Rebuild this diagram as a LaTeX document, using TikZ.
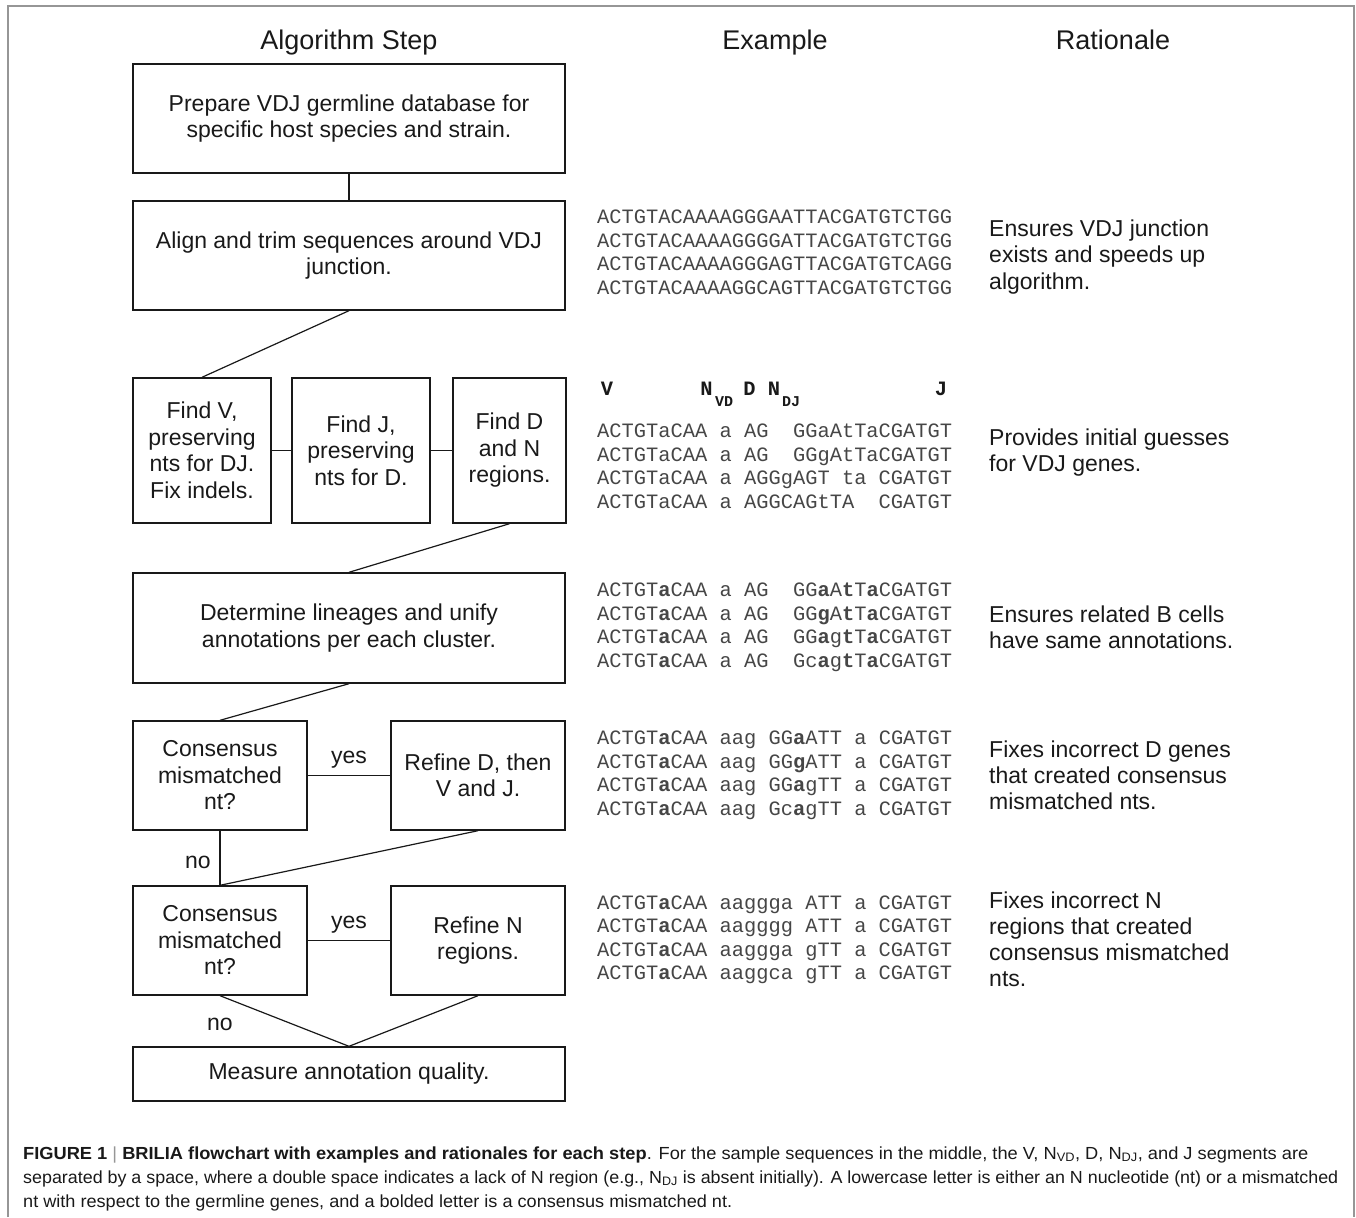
\documentclass[tikz,border=0pt]{standalone}
\usepackage{fontspec}
\setmainfont{Liberation Sans}
\setmonofont{Liberation Mono}
\definecolor{framegray}{RGB}{150,150,150}
\definecolor{ink}{RGB}{25,25,25}
\definecolor{seqink}{RGB}{70,70,70}
\newcommand\bnt[1]{\textbf{#1}}
\begin{document}
\begin{tikzpicture}[x=1pt,y=-1pt,
  stepbox/.style={draw=ink, line width=1.4pt, align=center, inner sep=0pt,
    font=\fontsize{23}{26.5}\selectfont, text=ink},
  conn/.style={draw=ink, line width=1.2pt},
  hdr/.style={anchor=base, inner sep=0pt, font=\fontsize{27}{30}\selectfont, text=ink},
  seqrow/.style={anchor=base west, inner sep=0pt, font=\ttfamily\fontsize{20.4}{24}\selectfont, text=seqink},
  seqhdr/.style={anchor=base, inner sep=0pt, font=\ttfamily\bfseries\fontsize{20.4}{24}\selectfont, text=ink},
  seqsub/.style={anchor=base, inner sep=0pt, font=\ttfamily\bfseries\fontsize{15}{18}\selectfont, text=ink},
  rat/.style={anchor=base west, inner sep=0pt, font=\fontsize{23}{26.5}\selectfont, text=ink},
  lbl/.style={anchor=base, inner sep=0pt, font=\fontsize{23}{26}\selectfont, text=ink},
  captext/.style={anchor=base west, inner sep=0pt, font=\fontsize{17.5}{20}\selectfont, text=ink}]
\useasboundingbox (0,0) rectangle (1356,1217);
\draw[framegray, line width=1.5pt] (8,1217) -- (8,6) -- (1354,6) -- (1354,1217);

% headers
\node[hdr] (h1) at (349,49.5) {Algorithm Step};
\node[hdr] (h2) at (775,49.5) {Example};
\node[hdr] (h3) at (1113,49.5) {Rationale};

% flowchart boxes
\node[stepbox, minimum width=432pt, minimum height=109pt] (b1) at (349,118.5)
  {Prepare VDJ germline database for\\specific host species and strain.};
\node[stepbox, minimum width=432pt, minimum height=109pt] (b2) at (349,255.5)
  {Align and trim sequences around VDJ\\junction.};
\node[stepbox, minimum width=138pt, minimum height=145pt] (b3a) at (202,450.5)
  {Find V,\\preserving\\nts for DJ.\\Fix indels.};
\node[stepbox, minimum width=138pt, minimum height=145pt] (b3b) at (361,450.5)
  {Find J,\\preserving\\nts for D.};
\node[stepbox, minimum width=113pt, minimum height=145pt] (b3c) at (509.5,450.5)
  {Find D\\and N\\regions.};
\node[stepbox, minimum width=432pt, minimum height=110pt] (b4) at (349,628)
  {Determine lineages and unify\\annotations per each cluster.};
\node[stepbox, minimum width=174pt, minimum height=109pt] (b5a) at (220,775.5)
  {Consensus\\mismatched\\nt?};
\node[stepbox, minimum width=174pt, minimum height=109pt] (b5b) at (478,775.5)
  {Refine D, then\\V and J.};
\node[stepbox, minimum width=174pt, minimum height=109pt] (b6a) at (220,940.5)
  {Consensus\\mismatched\\nt?};
\node[stepbox, minimum width=174pt, minimum height=109pt] (b6b) at (478,940.5)
  {Refine N\\regions.};
\node[stepbox, minimum width=432pt, minimum height=54pt] (b7) at (349,1074)
  {Measure annotation quality.};

% connectors
\draw[conn] (b1.south) -- (b2.north);
\draw[conn] (b2.south) -- (b3a.north);
\draw[conn] (b3a) -- (b3b);
\draw[conn] (b3b) -- (b3c);
\draw[conn] (b3c.south) -- (b4.north);
\draw[conn] (b4.south) -- (b5a.north);
\draw[conn] (b5a) -- (b5b);
\draw[conn] (b5a.south) -- (b6a.north);
\draw[conn] (b5b.south) -- (b6a.north);
\draw[conn] (b6a) -- (b6b);
\draw[conn] (b6a.south) -- (b7.north);
\draw[conn] (b6b.south) -- (b7.north);

\node[lbl] (y1) at (349,763) {yes};
\node[lbl] (y2) at (349,928) {yes};
\node[lbl] (n1) at (198,868) {no};
\node[lbl] (n2) at (220,1030) {no};

% examples
\node[seqrow] (s1a) at (597,223) {ACTGTACAAAAGGGAATTACGATGTCTGG};
\node[seqrow] (s1b) at (597,247) {ACTGTACAAAAGGGGATTACGATGTCTGG};
\node[seqrow] (s1c) at (597,270) {ACTGTACAAAAGGGAGTTACGATGTCAGG};
\node[seqrow] (s1d) at (597,294) {ACTGTACAAAAGGCAGTTACGATGTCTGG};

\node[seqhdr] (hV) at (607,395) {V};
\node[seqhdr] (hN1) at (706.5,395) {N};
\node[seqsub] (hVD) at (724,406) {VD};
\node[seqhdr] (hD) at (749.5,395) {D};
\node[seqhdr] (hN2) at (774,395) {N};
\node[seqsub] (hDJ) at (791,406) {DJ};
\node[seqhdr] (hJ) at (941,395) {J};

\node[seqrow] (s2a) at (597,437) {ACTGTaCAA~a~AG~~GGaAtTaCGATGT};
\node[seqrow] (s2b) at (597,461) {ACTGTaCAA~a~AG~~GGgAtTaCGATGT};
\node[seqrow] (s2c) at (597,484) {ACTGTaCAA~a~AGGgAGT~ta~CGATGT};
\node[seqrow] (s2d) at (597,508) {ACTGTaCAA~a~AGGCAGtTA~~CGATGT};

\node[seqrow] (s4a) at (597,596) {ACTGT\bnt{a}CAA~a~AG~~GG\bnt{a}A\bnt{t}T\bnt{a}CGATGT};
\node[seqrow] (s4b) at (597,620) {ACTGT\bnt{a}CAA~a~AG~~GG\bnt{g}A\bnt{t}T\bnt{a}CGATGT};
\node[seqrow] (s4c) at (597,643) {ACTGT\bnt{a}CAA~a~AG~~GG\bnt{a}g\bnt{t}T\bnt{a}CGATGT};
\node[seqrow] (s4d) at (597,667) {ACTGT\bnt{a}CAA~a~AG~~Gc\bnt{a}g\bnt{t}T\bnt{a}CGATGT};

\node[seqrow] (s5a) at (597,744) {ACTGT\bnt{a}CAA~aag~GG\bnt{a}ATT~a~CGATGT};
\node[seqrow] (s5b) at (597,768) {ACTGT\bnt{a}CAA~aag~GG\bnt{g}ATT~a~CGATGT};
\node[seqrow] (s5c) at (597,791) {ACTGT\bnt{a}CAA~aag~GG\bnt{a}gTT~a~CGATGT};
\node[seqrow] (s5d) at (597,815) {ACTGT\bnt{a}CAA~aag~Gc\bnt{a}gTT~a~CGATGT};

\node[seqrow] (s6a) at (597,909) {ACTGT\bnt{a}CAA~aaggga~ATT~a~CGATGT};
\node[seqrow] (s6b) at (597,932) {ACTGT\bnt{a}CAA~aagggg~ATT~a~CGATGT};
\node[seqrow] (s6c) at (597,956) {ACTGT\bnt{a}CAA~aaggga~gTT~a~CGATGT};
\node[seqrow] (s6d) at (597,979) {ACTGT\bnt{a}CAA~aaggca~gTT~a~CGATGT};

% rationales
\node[rat] (r1a) at (989,236) {Ensures VDJ junction};
\node[rat] (r1b) at (989,262) {exists and speeds up};
\node[rat] (r1c) at (989,289) {algorithm.};
\node[rat] (r2a) at (989,445) {Provides initial guesses};
\node[rat] (r2b) at (989,471) {for VDJ genes.};
\node[rat] (r3a) at (989,622) {Ensures related B cells};
\node[rat] (r3b) at (989,648) {have same annotations.};
\node[rat] (r4a) at (989,757) {Fixes incorrect D genes};
\node[rat] (r4b) at (989,783) {that created consensus};
\node[rat] (r4c) at (989,809) {mismatched nts.};
\node[rat] (r5a) at (989,908) {Fixes incorrect N};
\node[rat] (r5b) at (989,934) {regions that created};
\node[rat] (r5c) at (989,960) {consensus mismatched};
\node[rat] (r5d) at (989,986) {nts.};

% caption
\node[captext] (c1) at (23,1159) {\resizebox{1285pt}{\height}{\textbf{FIGURE 1} {\color{framegray}|} \textbf{BRILIA flowchart with examples and rationales for each step}. For the sample sequences in the middle, the V, N\textsubscript{VD}, D, N\textsubscript{DJ}, and J segments are}};
\node[captext] (c2) at (23,1183) {\resizebox{1315pt}{\height}{separated by a space, where a double space indicates a lack of N region (e.g., N\textsubscript{DJ} is absent initially). A lowercase letter is either an N nucleotide (nt) or a mismatched}};
\node[captext] (c3) at (23,1207) {\resizebox{709pt}{\height}{nt with respect to the germline genes, and a bolded letter is a consensus mismatched nt.}};
\end{tikzpicture}
\end{document}
